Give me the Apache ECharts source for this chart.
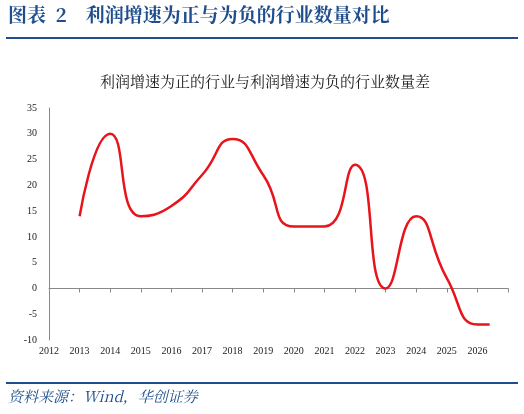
<!DOCTYPE html>
<html><head><meta charset="utf-8">
<script src="https://cdn.jsdelivr.net/npm/echarts@6/dist/echarts.min.js"></script>
<style>html,body{margin:0;padding:0;background:#fff;}#c{width:524px;height:414px;}</style>
</head><body><div id="c"></div>
<script>
const years = [2013,2014,2015,2016,2017,2018,2019,2020,2021,2022,2023,2024,2025,2026,2026.4];
const values = [14,30,14,16,22,29,22,12,12,24,0,14,2,-7,-7];
const yTicks = {min:-10, max:35, interval:5};
const xTicks = {min:2012, max:2027, interval:1};

const chart = echarts.init(document.getElementById('c'));
const data = years.map((y,i)=>{
  const d = {value:[y, values[i]]};
  if (i === 13) d.label = {position:'left', distance:14};
  return d;
});
chart.setOption({
  animation:false,
  graphic:[
    {type:'text', left:8, top:5, style:{text:'图表  2    利润增速为正与为负的行业数量对比', font:'bold 19px "Noto Serif CJK SC","Noto Sans CJK SC"', fill:'#1F4E8C'}},
    {type:'rect', shape:{x:6,y:37,width:512,height:2}, style:{fill:'#1F4E8C'}},
    {type:'text', left:100, top:74, style:{text:'利润增速为正的行业与利润增速为负的行业数量差', font:'15px "Noto Serif CJK SC","Noto Sans CJK SC"', fill:'#222'}},
    {type:'rect', shape:{x:6,y:382,width:512,height:2}, style:{fill:'#1F4E8C'}},
    {type:'text', left:8, top:389, style:{text:'资料来源：Wind，华创证券', font:'italic 15px "Noto Serif CJK SC","Noto Sans CJK SC"', fill:'#1F4E8C'}}
  ],
  grid:{left:49, right:16, top:108, bottom:74},
  xAxis:[{
    type:'value', min:xTicks.min, max:xTicks.max, interval:xTicks.interval,
    axisLine:{onZero:true, lineStyle:{color:'#888'}},
    axisTick:{show:true, inside:false, length:4, lineStyle:{color:'#888'}},
    axisLabel:{show:false}, splitLine:{show:false}
  },{
    type:'value', position:'bottom', min:xTicks.min, max:xTicks.max, interval:xTicks.interval,
    axisLine:{show:false, onZero:false}, axisTick:{show:false}, splitLine:{show:false},
    axisLabel:{fontFamily:'Liberation Serif', fontSize:10, color:'#222', margin:6,
      formatter:v=> v>=2027? '' : String(v)}
  }],
  yAxis:{
    type:'value', min:yTicks.min, max:yTicks.max, interval:yTicks.interval,
    axisLine:{show:true, lineStyle:{color:'#888'}}, axisTick:{show:false},
    splitLine:{show:false},
    axisLabel:{fontFamily:'Liberation Serif', fontSize:10, color:'#222', margin:12}
  },
  series:[{
    type:'line', data:data, smooth:0.55, showSymbol:true, symbol:'circle', symbolSize:1,
    itemStyle:{opacity:0},
    lineStyle:{color:'#E8141B', width:2.5},
    label:{show:true, position:'right', distance:12, fontFamily:'Noto Sans', fontSize:12, color:'#222',
      formatter:p=>String(p.value[1])}
  }]
});
</script></body></html>
